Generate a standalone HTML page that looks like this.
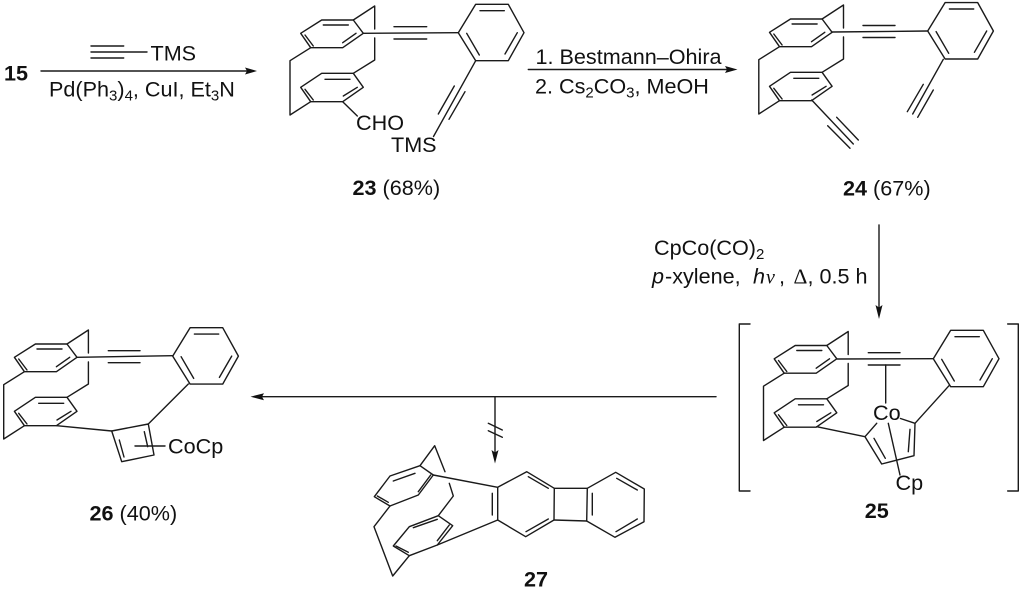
<!DOCTYPE html>
<html>
<head>
<meta charset="utf-8">
<style>
html,body{margin:0;padding:0;background:#fff;width:1022px;height:590px;overflow:hidden}
svg{display:block}
text{font-family:"Liberation Sans",Arial,sans-serif;font-size:21.6px;fill:#111}
.b{font-weight:bold}
.l{fill:none;stroke:#1a1a1a;stroke-width:1.4;stroke-linejoin:round;stroke-linecap:round}
.a{fill:#111;stroke:none}
</style>
</head>
<body>
<svg width="1022" height="590" viewBox="0 0 1022 590" xmlns="http://www.w3.org/2000/svg">
<defs>
<g id="core" class="l">
<path d="M300.7 33.3L321.7 20H353.3L363.3 33.3L342.7 47.7H310.7Z"/>
<path d="M323.3 25H348.3M342.7 42.7L356 33.3M305 35L313.3 46"/>
<path d="M353.3 20L374.7 6V29M374.7 38V60L353.3 73.3"/>
<path d="M353.3 73.3H321.7L300.7 87.3L310.7 101.7H342.7L363.3 87.3Z"/>
<path d="M325 79.3H350M343.3 96L357.3 87.3M305 89.3L313.3 100"/>
<path d="M310.7 47.7L290 60.7V115L310.7 101.7"/>
</g>
<g id="benz" class="l">
<path d="M458.3 32.7L475.7 4.3H508.3L524 32.7L508.3 60.7H475.7Z"/>
<path d="M480 10.7H504.3M505 54L517.3 32.7M466.7 33.3L479.3 55"/>
</g>
</defs>

<!-- reaction 1 -->
<text class="b" x="4" y="80.5">15</text>
<path class="l" d="M91 46H123.7M91 52H147M91 58H123.7"/>
<text x="150.5" y="60.5">TMS</text>
<path class="l" d="M41 71H250"/>
<path class="a" d="M257 71L245 67.5L247 71L245 74.5Z"/>
<text x="49" y="96.5">Pd(Ph<tspan font-size="15" dy="4">3</tspan><tspan dy="-4">)</tspan><tspan font-size="15" dy="4">4</tspan><tspan dy="-4">, CuI, Et</tspan><tspan font-size="15" dy="4">3</tspan><tspan dy="-4">N</tspan></text>

<!-- compound 23 -->
<use href="#core"/>
<use href="#benz"/>
<g class="l">
<path d="M363.3 33.3L458.3 32.7M394 26.7H426.7M394 39H426.7"/>
<path d="M475.7 60.7L433.5 136.5M454.3 86L438.3 114M465 91.7L449 119.3"/>
<path d="M342.7 101.7L357.3 116"/>
</g>
<text x="356" y="130">CHO</text>
<text x="391" y="152">TMS</text>
<text x="352.5" y="195"><tspan class="b">23</tspan> (68%)</text>

<!-- reaction 2 -->
<text x="535.5" y="64">1. Bestmann–Ohira</text>
<path class="l" d="M528.3 69.5H730"/>
<path class="a" d="M737.5 69.5L725 66L727 69.5L725 73Z"/>
<text x="535" y="93.3">2. Cs<tspan font-size="15" dy="4">2</tspan><tspan dy="-4">CO</tspan><tspan font-size="15" dy="4">3</tspan><tspan dy="-4">, MeOH</tspan></text>

<!-- compound 24 -->
<use href="#core" transform="translate(468.8,-1)"/>
<use href="#benz" transform="translate(469.4,-1.7)"/>
<g class="l">
<path d="M832.3 32L927.7 31M863 25.5H895M863 37.5H895"/>
<path d="M943.3 59.3L912.7 114M923.3 84.3L907.3 111.7M933.3 90L917.7 117.3"/>
<path d="M811.7 100L853.3 144M836.7 117.3L858.3 140M827.7 125.7L850 148.3"/>
</g>
<text x="843" y="195.5"><tspan class="b">24</tspan> (67%)</text>

<!-- reaction 3 -->
<text x="654" y="255">CpCo(CO)<tspan font-size="15" dy="4">2</tspan></text>
<text x="652" y="283.3" font-style="italic">p</text>
<text x="665" y="283.3">-xylene,</text>
<text x="753" y="283.3" font-style="italic">h</text>
<text x="766" y="283.3" style="font-family:'Liberation Serif',serif;font-style:italic;font-size:20px">ν</text>
<text x="779" y="283.3">,</text>
<text x="793.5" y="283.3" style="font-family:'Liberation Serif',serif">Δ</text>
<text x="807.5" y="283.3">, 0.5 h</text>
<path class="l" d="M879 225V312"/>
<path class="a" d="M879 319L875.5 305L879 307.5L882.5 305Z"/>

<!-- compound 25 -->
<path class="l" d="M750 324H739.3V491H750M1007.7 324H1018.3V491H1007.7"/>
<use href="#core" transform="translate(473.5,325.5)"/>
<use href="#benz" transform="translate(475,326)"/>
<g class="l">
<path d="M837.3 359L933.3 358.7M868.3 352.7H900M868.3 365H900"/>
<path d="M885.7 365V403"/>
<path d="M816.7 426.7L865 436.7L876.7 423.3M865 436.7L881.7 464L914 455.7L915 423.3L900.5 418.5"/>
<path d="M874 438.3L885.3 458.3M908.3 451.7L910 429.3"/>
<path d="M915 423.3L949 385.7"/>
<path d="M888.3 423.3L900 475"/>
</g>
<text x="873" y="420">Co</text>
<text x="895.5" y="490">Cp</text>
<text class="b" x="864.7" y="518">25</text>

<!-- arrow 4 / 5 -->
<path class="l" d="M716 396.7H258"/>
<path class="a" d="M250.5 396.7L264 393.2L262 396.7L264 400.2Z"/>
<path class="l" d="M495 396.7V456"/>
<path class="a" d="M495 463.5L491.5 450L495 452.5L498.5 450Z"/>
<path class="l" d="M488.3 423.3L502.3 430M488.3 430.7L502.3 437.3"/>

<!-- compound 26 -->
<use href="#core" transform="translate(-286.3,324)"/>
<use href="#benz" transform="translate(-285.6,323.4)"/>
<g class="l">
<path d="M77.3 357.3L172.7 355.7M108.3 350.7H140M108.3 362.7H140"/>
<path d="M56.7 425.7L111.7 431"/>
<path d="M111.7 431L148.3 424L154 455L121.7 461.7Z"/>
<path d="M119.3 440L124 457M144.3 431.7L147.7 446.7"/>
<path d="M188.3 384L148.3 424"/>
<path d="M135 446H165"/>
</g>
<text x="168" y="453.3">CoCp</text>
<text x="89.5" y="520.5"><tspan class="b">26</tspan> (40%)</text>

<!-- compound 27 -->
<g class="l">
<path d="M374.3 496.7L390 476L420 465.7L433.3 475L418.3 495L390 506Z"/>
<path d="M393.3 481L415 473.3M418.3 491.7L430.7 475M377.3 496L388.3 502.3"/>
<path d="M420 465.7L434.7 445.7L445 471.7M449.3 483.3L453.3 496L438.3 515.7"/>
<path d="M438.3 515.7L409.3 526.7L393.3 546L409.3 555.7L437.3 545L452.7 525.7Z"/>
<path d="M413.3 527.7L437.3 519.3M437.3 540.7L449.3 525M396 546L408.3 552.3"/>
<path d="M390 506L374 526.7L392.7 576L409.3 555.7"/>
<path d="M433.3 475L497.7 487.3M437.3 545L497.7 520"/>
<path d="M497.7 487.3L526.7 471.7L554.3 488.3L554 520L525.7 536.7L497.7 520Z"/>
<path d="M492.3 493.3V515M528.3 476.7L548.3 488.3M526 531.7L548.3 519"/>
<path d="M554.3 488.3H587.3L586.7 521L554 520"/>
<path d="M587.3 488.3L615.7 472.3L644.3 489L644 521.7L615 537.3L586.7 521"/>
<path d="M592.3 493.3V515M616.7 478.3L637.3 490M616 531.7L637.3 519"/>
</g>
<text class="b" x="524" y="586.5">27</text>
</svg>
</body>
</html>
